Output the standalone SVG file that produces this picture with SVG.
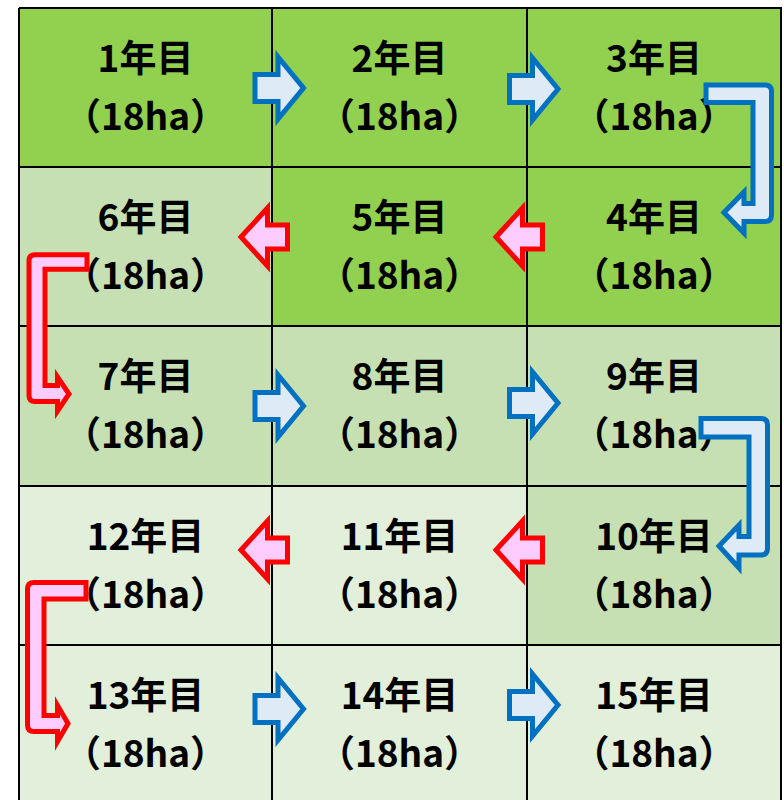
<svg xmlns="http://www.w3.org/2000/svg" xmlns:xlink="http://www.w3.org/1999/xlink" width="784" height="800" viewBox="0 0 784 800">
<style>
.c1{fill:#92D050}
.c2{fill:#C6E0B4}
.c3{fill:#E2EFDA}
.t{font-family:"Noto Sans CJK JP","Noto Sans",sans-serif;font-weight:bold;font-size:37px;fill:#000;text-anchor:middle}
.grid{stroke:#000;stroke-width:2;fill:none}
.ba{fill:#DEEBF7;stroke:#0070C0;stroke-width:5;stroke-linejoin:miter;stroke-miterlimit:10}
.ra{fill:#FFCCFF;stroke:#FF0000;stroke-width:5;stroke-linejoin:miter;stroke-miterlimit:10}
</style>
<defs>
<path id="rarrow" d="M0,-13.5 H23 V-31 L48.5,0 L23,31 V13.5 H0 Z"/>
<path id="larrow" d="M0,0 L26.5,-29 V-12 H46.5 V12 H26.5 V29 Z"/>
</defs>
<rect width="784" height="800" fill="#fff"/>
<g id="cell1"><rect class="c1" x="19" y="8" width="253" height="159"/><text class="t" x="145.5" y="72">1年目</text><text class="t" x="145.5" y="130">（18ha）</text></g>
<g id="cell2"><rect class="c1" x="272" y="8" width="255" height="159"/><text class="t" x="399.5" y="72">2年目</text><text class="t" x="399.5" y="130">（18ha）</text></g>
<g id="cell3"><rect class="c1" x="527" y="8" width="254" height="159"/><text class="t" x="654" y="72">3年目</text><text class="t" x="654" y="130">（18ha）</text></g>
<g id="cell6"><rect class="c2" x="19" y="167" width="253" height="159"/><text class="t" x="145.5" y="231">6年目</text><text class="t" x="145.5" y="289">（18ha）</text></g>
<g id="cell5"><rect class="c1" x="272" y="167" width="255" height="159"/><text class="t" x="399.5" y="231">5年目</text><text class="t" x="399.5" y="289">（18ha）</text></g>
<g id="cell4"><rect class="c1" x="527" y="167" width="254" height="159"/><text class="t" x="654" y="231">4年目</text><text class="t" x="654" y="289">（18ha）</text></g>
<g id="cell7"><rect class="c2" x="19" y="326" width="253" height="160"/><text class="t" x="145.5" y="390">7年目</text><text class="t" x="145.5" y="448">（18ha）</text></g>
<g id="cell8"><rect class="c2" x="272" y="326" width="255" height="160"/><text class="t" x="399.5" y="390">8年目</text><text class="t" x="399.5" y="448">（18ha）</text></g>
<g id="cell9"><rect class="c2" x="527" y="326" width="254" height="160"/><text class="t" x="654" y="390">9年目</text><text class="t" x="654" y="448">（18ha）</text></g>
<g id="cell12"><rect class="c3" x="19" y="486" width="253" height="159"/><text class="t" x="145.5" y="550">12年目</text><text class="t" x="145.5" y="608">（18ha）</text></g>
<g id="cell11"><rect class="c3" x="272" y="486" width="255" height="159"/><text class="t" x="399.5" y="550">11年目</text><text class="t" x="399.5" y="608">（18ha）</text></g>
<g id="cell10"><rect class="c2" x="527" y="486" width="254" height="159"/><text class="t" x="654" y="550">10年目</text><text class="t" x="654" y="608">（18ha）</text></g>
<g id="cell13"><rect class="c3" x="19" y="645" width="253" height="155"/><text class="t" x="145.5" y="709">13年目</text><text class="t" x="145.5" y="767">（18ha）</text></g>
<g id="cell14"><rect class="c3" x="272" y="645" width="255" height="155"/><text class="t" x="399.5" y="709">14年目</text><text class="t" x="399.5" y="767">（18ha）</text></g>
<g id="cell15"><rect class="c3" x="527" y="645" width="254" height="155"/><text class="t" x="654" y="709">15年目</text><text class="t" x="654" y="767">（18ha）</text></g>
<g id="grid" class="grid">
<path d="M19,8 H781 V801 M19,8 V801 M272,8 V801 M527,8 V801 M19,167 H781 M19,326 H781 M19,486 H781 M19,645 H781"/>
</g>
<g id="connectors">
<use href="#rarrow" class="ba" x="255" y="88"/>
<use href="#rarrow" class="ba" x="509.5" y="89"/>
<use href="#larrow" class="ra" x="241" y="237"/>
<use href="#larrow" class="ra" x="496" y="237"/>
<use href="#rarrow" class="ba" x="255" y="406"/>
<use href="#rarrow" class="ba" x="509.5" y="403"/>
<use href="#larrow" class="ra" x="241" y="550"/>
<use href="#larrow" class="ra" x="496" y="550"/>
<use href="#rarrow" class="ba" x="255" y="709"/>
<use href="#rarrow" class="ba" x="509.5" y="705"/>
<path class="ba" d="M706,85 H765 Q771.5,85 771.5,91.5 V215 Q771.5,221.5 765,221.5 H744 V233 L724,212.5 L744,192 V203.5 H753 V102.5 H706 Z"/>
<path class="ba" d="M701,418.5 H761 Q767.5,418.5 767.5,425 V548.5 Q767.5,555 761,555 H739 V568 L719,546 L739,525 V536.5 H749 V437 H701 Z"/>
<path class="ra" d="M87,254.8 H35 Q29,254.8 29,261 V395.5 Q29,401.5 35,401.5 H57.5 V411 L69,394 L57.5,377 V385.5 H45 V269.2 H87 Z"/>
<path class="ra" d="M86,582.5 H34 Q27.5,582.5 27.5,589 V725 Q27.5,731.5 34,731.5 H57.5 V741.5 L68,723.5 L57.5,705.5 V715.5 H44 V599 H86 Z"/>
</g>
</svg>
